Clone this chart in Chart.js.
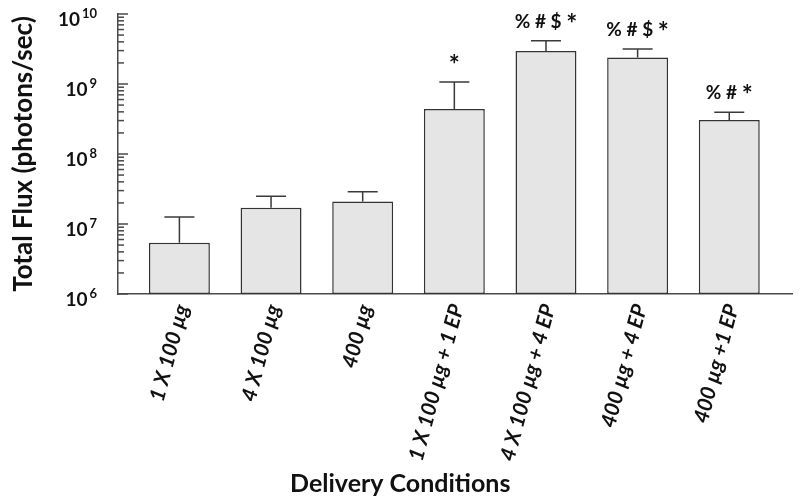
<!DOCTYPE html>
<html>
<head>
<meta charset="utf-8">
<script src="https://cdn.jsdelivr.net/npm/chart.js@4.4.1/dist/chart.umd.min.js"></script>
<style>
  html, body { margin: 0; padding: 0; background: #fff; }
  #wrap { width: 800px; height: 502px; }
</style>
</head>
<body>
<div id="wrap"><canvas id="fluxChart"></canvas></div>
<script>
// Delivery conditions along the x axis
const categories = ["1 X 100 µg", "4 X 100 µg", "400 µg", "1 X 100 µg + 1 EP", "4 X 100 µg + 4 EP", "400 µg + 4 EP", "400 µg +1 EP"];
// Mean total flux (photons/sec)
const meanFlux = [5.4e6, 1.7e7, 2.1e7, 4.4e8, 2.95e9, 2.4e9, 3.05e8];
// Top of the upper error bar of each bar
const errorTop = [1.26e7, 2.5e7, 2.9e7, 1.07e9, 4.15e9, 3.15e9, 3.95e8];
// Significance marks above the bars
const sigMarks = ["", "", "", "*", "% # $ *", "% # $ *", "% # *"];
// Decades on the y axis: 10^6 ... 10^10
const decades = [6, 7, 8, 9, 10];

const AXIS = "#4a4a4a";
const FONT = "Lato, 'Open Sans', sans-serif";

// draws a mark string centred at x; the asterisk is set larger, like the original
function drawMark(ctx, text, cx, baseY) {
  const parts = text.split(" ");
  const fontFor = p => (p === "*" ? "bold 26px " : "bold 19px ") + FONT;
  ctx.font = "bold 19px " + FONT;
  const gap = ctx.measureText(" ").width;
  const widths = parts.map(p => { ctx.font = fontFor(p); return ctx.measureText(p).width; });
  let x0 = cx - (widths.reduce((a, b) => a + b, 0) + gap * (parts.length - 1)) / 2;
  parts.forEach((p, k) => {
    ctx.font = fontFor(p);
    ctx.fillText(p, x0, baseY + (p === "*" ? 5 : 0));
    x0 += widths[k] + gap;
  });
}

// error bars, marks, inward ticks and superscript tick labels
const drawExtras = {
  id: "drawExtras",
  afterDatasetsDraw(chart) {
    const { ctx, scales: { x, y } } = chart;
    ctx.save();
    ctx.strokeStyle = "#3a3a3a";
    ctx.lineWidth = 1.5;
    meanFlux.forEach((v, i) => {
      const px = x.getPixelForValue(i);
      const y0 = y.getPixelForValue(v);
      const y1 = y.getPixelForValue(errorTop[i]);
      ctx.beginPath();
      ctx.moveTo(px, y0);
      ctx.lineTo(px, y1);
      ctx.moveTo(px - 15, y1);
      ctx.lineTo(px + 15, y1);
      ctx.stroke();
    });

    ctx.fillStyle = "#111";
    ctx.textAlign = "left";
    ctx.textBaseline = "alphabetic";
    sigMarks.forEach((m, i) => {
      if (!m) return;
      drawMark(ctx, m, x.getPixelForValue(i), y.getPixelForValue(errorTop[i]) - 13);
    });
    ctx.restore();
  },
  afterDraw(chart) {
    const { ctx, chartArea, scales: { x, y } } = chart;
    ctx.save();

    // y ticks point into the plot
    ctx.strokeStyle = AXIS;
    ctx.lineWidth = 1.5;
    y.ticks.forEach(t => {
      const py = y.getPixelForValue(t.value);
      const major = Math.abs(Math.log10(t.value) - Math.round(Math.log10(t.value))) < 1e-9;
      ctx.beginPath();
      ctx.moveTo(chartArea.left, py);
      ctx.lineTo(chartArea.left + (major ? 10 : 6), py);
      ctx.stroke();
    });

    // 10^n labels
    ctx.fillStyle = "#111";
    ctx.textBaseline = "middle";
    const right = chartArea.left - 21;
    decades.forEach(e => {
      const py = y.getPixelForValue(Math.pow(10, e));
      ctx.font = "bold 13px " + FONT;
      const ew = ctx.measureText(String(e)).width;
      ctx.textAlign = "left";
      ctx.fillText(String(e), right - ew, py);
      ctx.font = "bold 19px " + FONT;
      ctx.textAlign = "right";
      ctx.fillText("10", right - ew - 2, py + 6);
    });

    // rotated category labels
    ctx.font = "italic bold 21px " + FONT;
    ctx.textAlign = "right";
    ctx.textBaseline = "middle";
    categories.forEach((c, i) => {
      ctx.save();
      ctx.translate(x.getPixelForValue(i) + 3, chartArea.bottom + 11);
      ctx.rotate(-75 * Math.PI / 180);
      ctx.fillText(c, 0, 0);
      ctx.restore();
    });
    ctx.restore();
  }
};

new Chart(document.getElementById("fluxChart"), {
  type: "bar",
  data: {
    datasets: [{
      data: meanFlux.map((v, i) => ({ x: i, y: v })),
      backgroundColor: "#e5e5e5",
      borderColor: "#333",
      borderWidth: 1.5,
      borderSkipped: false,
      barPercentage: 0.665,
      categoryPercentage: 1
    }]
  },
  options: {
    responsive: true,
    maintainAspectRatio: false,
    animation: false,
    layout: { padding: { top: 14, right: 7.5, left: 8, bottom: 0 } },
    plugins: {
      legend: { display: false },
      tooltip: { enabled: false },
      title: {
        display: true,
        position: "bottom",
        text: "Delivery Conditions",
        color: "#111",
        font: { family: FONT, size: 25, weight: "bold" },
        padding: { top: 0, bottom: 3 }
      }
    },
    scales: {
      x: {
        type: "linear",
        offset: false,
        min: -0.67,
        max: 6.69,
        grid: { display: false },
        border: { display: true, color: AXIS, width: 1.5 },
        ticks: { display: false },
        afterBuildTicks: s => { s.ticks = categories.map((c, i) => ({ value: i })); },
        afterFit: s => { s.height = 175; }
      },
      y: {
        type: "logarithmic",
        min: 1e6,
        max: 1e10,
        grid: { display: false },
        border: { display: true, color: AXIS, width: 1.5 },
        ticks: { display: false },
        afterBuildTicks: s => {
          const t = [];
          decades.slice(0, -1).forEach(e => {
            for (let m = 1; m < 10; m++) t.push({ value: m * Math.pow(10, e) });
          });
          t.push({ value: Math.pow(10, decades[decades.length - 1]) });
          s.ticks = t;
        },
        afterFit: s => { s.width = 110; },
        title: {
          display: true,
          text: "Total Flux (photons/sec)",
          color: "#111",
          font: { family: FONT, size: 26, weight: "bold" },
          padding: { top: 0, bottom: 0 }
        }
      }
    }
  },
  plugins: [drawExtras]
});
</script>
</body>
</html>
